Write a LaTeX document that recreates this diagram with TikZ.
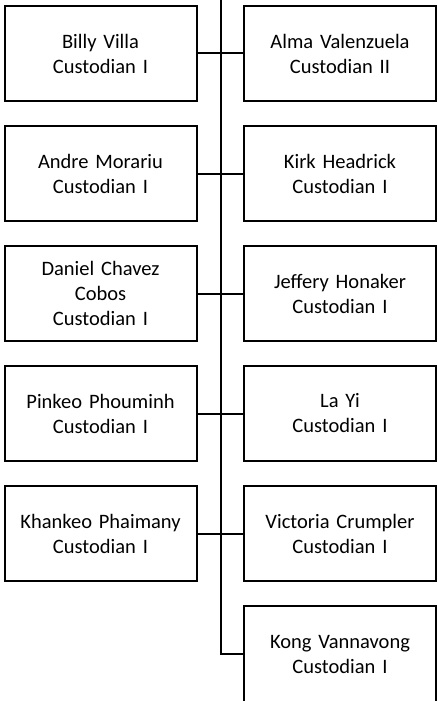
\documentclass[tikz,border=0pt]{standalone}
\usepackage{fontspec}
\setmainfont{Carlito}
\begin{document}
\begin{tikzpicture}[x=1pt,y=-1pt,
  person/.style={draw=black, line width=2pt, fill=white, minimum width=192pt, minimum height=95pt,
    text width=188pt, align=center, inner sep=0pt, font=\fontsize{20.5}{25}\selectfont},
  link/.style={draw=black, line width=2pt}]
\clip (0,0) rectangle (437,701);
\fill[white] (0,0) rectangle (437,701);
% spine
\coordinate (top) at (221,-3);
% left column
\node[person] (L1) at (100.5,53.5) {Billy Villa\\Custodian I};
\node[person] (L2) at (100.5,173.5) {Andre Morariu\\Custodian I};
\node[person] (L3) at (100.5,293.5) {Daniel Chavez\\Cobos\\Custodian I};
\node[person] (L4) at (100.5,413.5) {Pinkeo Phouminh\\Custodian I};
\node[person] (L5) at (100.5,533.5) {Khankeo Phaimany\\Custodian I};
% right column
\node[person] (R1) at (340,53.5) {Alma Valenzuela\\Custodian II};
\node[person] (R2) at (340,173.5) {Kirk Headrick\\Custodian I};
\node[person] (R3) at (340,293.5) {Jeffery Honaker\\Custodian I};
\node[person] (R4) at (340,413.5) {La Yi\\Custodian I};
\node[person] (R5) at (340,533.5) {Victoria Crumpler\\Custodian I};
\node[person, minimum height=97pt] (R6) at (340,654) {Kong Vannavong\\Custodian I};
% connectors
\draw[link] (top) |- (R6.west);
\foreach \i in {1,...,5} {
  \draw[link] (L\i.east) -- (R\i.west);
}
\end{tikzpicture}
\end{document}
